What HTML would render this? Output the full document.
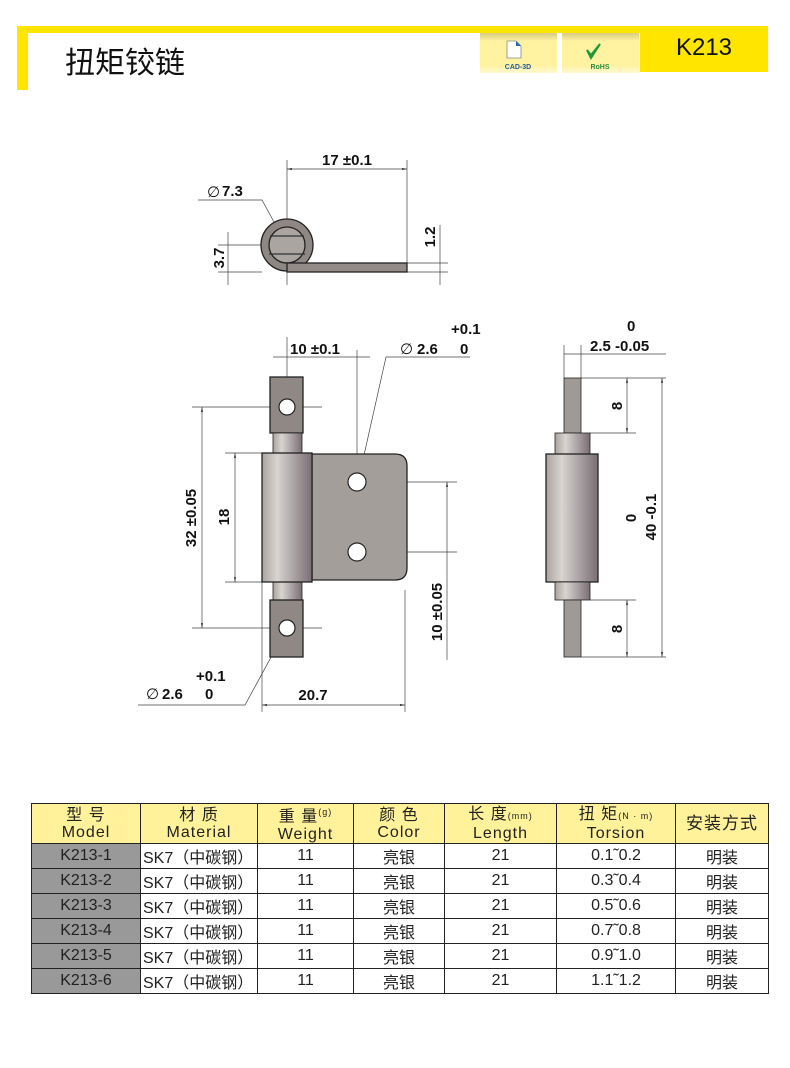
<!DOCTYPE html>
<html><head><meta charset="utf-8"><style>
body{margin:0;background:#fff;width:790px;height:1068px;overflow:hidden;position:relative;font-family:"Liberation Sans","Noto Sans CJK SC",sans-serif}
.abs{position:absolute}
table{position:absolute;left:31px;top:803px;border-collapse:collapse;width:738px;font-family:"Liberation Sans","Noto Sans CJK SC",sans-serif}
td{border:1.5px solid #222;text-align:center;padding:0;height:24px;font-size:16px;color:#222}
tr.h td{background:#fff29a;height:39px;font-size:16px;line-height:17px;letter-spacing:1px}
td.g{background:#999;color:#222}
td.l{text-align:left;padding-left:2px}
</style></head><body>
<div class="abs" style="left:17px;top:26px;width:751px;height:7px;background:#ffe500"></div>
<div class="abs" style="left:17px;top:26px;width:11px;height:64px;background:#ffe500"></div>
<div class="abs" style="left:640px;top:26px;width:128px;height:46px;background:#ffe500"></div>
<div class="abs" style="left:640px;top:34px;width:128px;text-align:center;font-size:24px;color:#111">K213</div>
<div class="abs" style="left:65px;top:38px;font-size:30px;font-family:'Noto Sans CJK SC',sans-serif;color:#111">扭矩铰链</div>
<div class="abs" style="left:480px;top:33px;width:77px;height:40px;background:linear-gradient(#d8cc80,#fff2a0 20%,#fff2a0 80%,#fff8d0)"></div>
<div class="abs" style="left:562px;top:33px;width:77px;height:40px;background:linear-gradient(#d8cc80,#fff2a0 20%,#fff2a0 80%,#fff8d0)"></div>
<svg class="abs" style="left:0;top:0" width="790" height="1068">
<path d="M507 41h9l5 5v12h-14z" fill="#fff" stroke="#888" stroke-width=".8"/><path d="M516 41v5h5z" fill="#2a6ab0"/>
<path d="M587 50l4 5 9-11-9 14z" fill="#1a9a3a" stroke="#1a9a3a" stroke-width="2"/>
<text x="518" y="69" font-size="7" font-weight="bold" fill="#2a5a9a" text-anchor="middle" font-family="Liberation Sans">CAD-3D</text>
<text x="600" y="69" font-size="7" font-weight="bold" fill="#2a8a3a" text-anchor="middle" font-family="Liberation Sans">RoHS</text>
<defs>
<linearGradient id="bar" x1="0" x2="1"><stop offset="0" stop-color="#aaa49f"/><stop offset=".3" stop-color="#d8d4d0"/><stop offset="1" stop-color="#7a6e75"/></linearGradient>
<marker id="a" viewBox="0 0 10 10" refX="10" refY="5" markerWidth="7" markerHeight="7" orient="auto-start-reverse"><path d="M0 3L10 5L0 7z" fill="#222"/></marker>
</defs>
<g stroke="#444" stroke-width=".7" fill="none">
<line x1="287" y1="160" x2="287" y2="285"/><line x1="407" y1="160" x2="407" y2="265"/>
<line x1="287" y1="169" x2="407" y2="169" marker-start="url(#a)" marker-end="url(#a)"/>
<path d="M198 200H262L274 222"/>
<line x1="218" y1="245" x2="262" y2="245"/><line x1="218" y1="272" x2="262" y2="272"/>
<line x1="228" y1="232" x2="228" y2="285"/>
<line x1="407" y1="263" x2="448" y2="263"/><line x1="407" y1="272" x2="448" y2="272"/>
<line x1="440" y1="225" x2="440" y2="285"/>
<line x1="287" y1="337" x2="287" y2="440"/><line x1="357" y1="350" x2="357" y2="560"/>
<line x1="273" y1="357" x2="370" y2="357"/>
<path d="M470 357H386L358 482"/>
<line x1="192" y1="407" x2="322" y2="407"/><line x1="192" y1="628" x2="322" y2="628"/>
<line x1="202" y1="407" x2="202" y2="628" marker-start="url(#a)" marker-end="url(#a)"/>
<line x1="225" y1="453" x2="262" y2="453"/><line x1="225" y1="582" x2="262" y2="582"/>
<line x1="235" y1="453" x2="235" y2="582" marker-start="url(#a)" marker-end="url(#a)"/>
<line x1="330" y1="482" x2="457" y2="482"/><line x1="330" y1="552" x2="457" y2="552"/>
<line x1="447" y1="482" x2="447" y2="660" marker-start="url(#a)"/>
<line x1="262" y1="582" x2="262" y2="712"/><line x1="405" y1="590" x2="405" y2="712"/>
<line x1="262" y1="705" x2="405" y2="705" marker-start="url(#a)" marker-end="url(#a)"/>
<path d="M138 705H245L287 628"/>
<line x1="564" y1="345" x2="564" y2="378"/><line x1="581" y1="345" x2="581" y2="378"/>
<line x1="564" y1="354" x2="666" y2="354"/>
<line x1="581" y1="378" x2="666" y2="378"/><line x1="581" y1="657" x2="666" y2="657"/>
<line x1="590" y1="433" x2="636" y2="433"/><line x1="590" y1="600" x2="636" y2="600"/>
<line x1="627" y1="378" x2="627" y2="433" marker-start="url(#a)" marker-end="url(#a)"/>
<line x1="627" y1="600" x2="627" y2="657" marker-start="url(#a)" marker-end="url(#a)"/>
<line x1="662" y1="378" x2="662" y2="657" marker-start="url(#a)" marker-end="url(#a)"/>
</g>
<g stroke="#222" stroke-width="1.3">
<circle cx="287" cy="245" r="26" fill="#8f8783"/>
<circle cx="287" cy="245" r="18" fill="#aaa5a0"/>
<rect x="287" y="263" width="120" height="9" fill="#938b87"/>
<rect x="270" y="377" width="33" height="56" fill="#8f8884"/>
<rect x="273" y="433" width="29" height="20" fill="url(#bar)" stroke-width=".8"/>
<rect x="273" y="582" width="29" height="18" fill="url(#bar)" stroke-width=".8"/>
<rect x="270" y="600" width="33" height="57" fill="#8f8884"/>
<path d="M312 454H395Q407 454 407 466V568Q407 580 395 580H312z" fill="#a49e9a"/>
<rect x="262" y="453" width="50" height="129" fill="url(#bar)"/>
<rect x="564" y="378" width="17" height="55" fill="#a09a96" stroke-width=".8"/>
<rect x="555" y="433" width="35" height="21" fill="url(#bar)" stroke-width=".8"/>
<rect x="546" y="454" width="52" height="128" fill="url(#bar)"/>
<rect x="555" y="582" width="35" height="18" fill="url(#bar)" stroke-width=".8"/>
<rect x="564" y="600" width="17" height="57" fill="#a09a96" stroke-width=".8"/>
</g>
<g stroke="#333" stroke-width="1.2"><line x1="270" y1="236" x2="304" y2="236"/><line x1="269" y1="254" x2="305" y2="254"/></g>
<g fill="#fff" stroke="#222" stroke-width="1.2">
<circle cx="287" cy="407" r="8"/><circle cx="287" cy="628" r="8"/>
<circle cx="357" cy="482" r="9"/><circle cx="357" cy="552" r="9"/>
</g>
<g font-family="Liberation Sans" font-size="15" font-weight="bold" fill="#111">
<text x="347" y="165" text-anchor="middle">17 ±0.1</text>
<text x="207" y="197" font-weight="normal">∅</text><text x="222" y="196">7.3</text>
<text transform="translate(224 258) rotate(-90)" text-anchor="middle">3.7</text>
<text transform="translate(435 237) rotate(-90)" text-anchor="middle">1.2</text>
<text x="315" y="354" text-anchor="middle">10 ±0.1</text>
<text x="400" y="354" font-weight="normal">∅</text><text x="417" y="354">2.6</text><text x="460" y="354">0</text>
<text x="451" y="334">+0.1</text>
<text transform="translate(196 518) rotate(-90)" text-anchor="middle">32 ±0.05</text>
<text transform="translate(229 517) rotate(-90)" text-anchor="middle">18</text>
<text transform="translate(442 612) rotate(-90)" text-anchor="middle">10 ±0.05</text>
<text x="313" y="700" text-anchor="middle">20.7</text>
<text x="146" y="699" font-weight="normal">∅</text><text x="162" y="699">2.6</text><text x="205" y="699">0</text>
<text x="196" y="681">+0.1</text>
<text x="627" y="331">0</text>
<text x="590" y="351">2.5 -0.05</text>
<text transform="translate(622 406) rotate(-90)" text-anchor="middle">8</text>
<text transform="translate(622 629) rotate(-90)" text-anchor="middle">8</text>
<text transform="translate(636 518) rotate(-90)" text-anchor="middle">0</text>
<text transform="translate(656 517) rotate(-90)" text-anchor="middle">40 -0.1</text>
</g>
</svg>
<table>
<tr class="h"><td style="width:108px">型 号<br>Model</td><td style="width:116px">材 质<br>Material</td><td style="width:95px">重 量<sup style="font-size:9px">(g)</sup><br>Weight</td><td style="width:90px">颜 色<br>Color</td><td style="width:111px">长 度<span style="font-size:9px">(mm)</span><br>Length</td><td style="width:118px">扭 矩<span style="font-size:9px">(N · m)</span><br>Torsion</td><td style="font-size:17px">安装方式</td></tr>
<tr><td class="g">K213-1</td><td class="l">SK7（中碳钢）</td><td>11</td><td>亮银</td><td>21</td><td>0.1˜0.2</td><td>明装</td></tr>
<tr><td class="g">K213-2</td><td class="l">SK7（中碳钢）</td><td>11</td><td>亮银</td><td>21</td><td>0.3˜0.4</td><td>明装</td></tr>
<tr><td class="g">K213-3</td><td class="l">SK7（中碳钢）</td><td>11</td><td>亮银</td><td>21</td><td>0.5˜0.6</td><td>明装</td></tr>
<tr><td class="g">K213-4</td><td class="l">SK7（中碳钢）</td><td>11</td><td>亮银</td><td>21</td><td>0.7˜0.8</td><td>明装</td></tr>
<tr><td class="g">K213-5</td><td class="l">SK7（中碳钢）</td><td>11</td><td>亮银</td><td>21</td><td>0.9˜1.0</td><td>明装</td></tr>
<tr><td class="g">K213-6</td><td class="l">SK7（中碳钢）</td><td>11</td><td>亮银</td><td>21</td><td>1.1˜1.2</td><td>明装</td></tr>
</table>
</body></html>
